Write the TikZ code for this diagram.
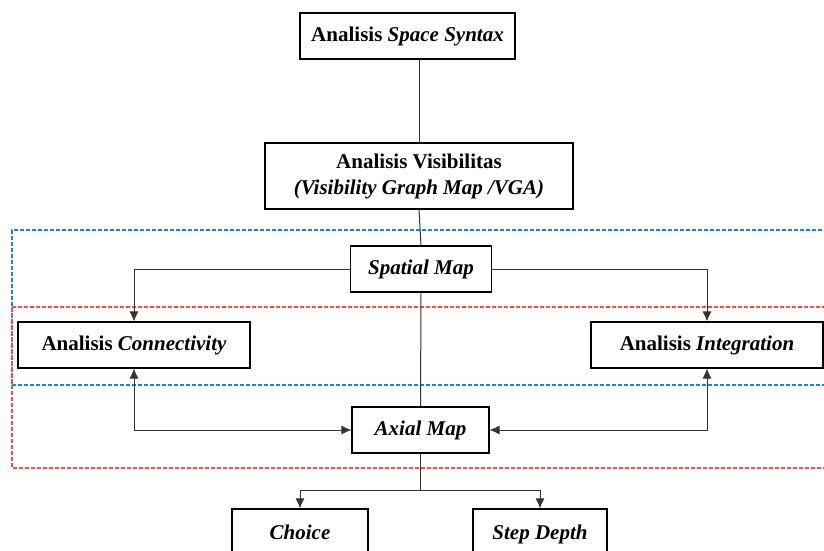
\documentclass[tikz,border=0pt]{standalone}
\usepackage{fontspec}
\setmainfont{Liberation Serif}
\usepackage{xcolor}
\usetikzlibrary{shapes,arrows,arrows.meta,positioning}

\definecolor{zoneblue}{RGB}{30,130,215}
\definecolor{zonered}{RGB}{255,75,75}

\begin{document}
\begin{tikzpicture}[x=1pt, y=-1pt, font=\fontsize{21}{26}\selectfont\bfseries]
            \tikzstyle{stage} = [rectangle, draw, line width=1.1pt, fill=white, text centered, minimum height=46pt, inner sep=2pt]
            \tikzstyle{link} = [black!80, line width=1pt]
            \tikzstyle{arrow} = [link, -{Latex[length=10pt,width=9pt]}]
            \tikzstyle{twoway} = [link, {Latex[length=10pt,width=9pt]}-{Latex[length=10pt,width=9pt]}]
            \tikzstyle{zone} = [line width=1.2pt, dash pattern=on 4pt off 2pt]

            \clip (0,0) rectangle (824,551);

            % dashed zones (open on the right)
            \draw [zone, zoneblue] (840,230) -- (12,230) -- (12,385);
            \draw [zone, zoneblue] (12,385) -- (840,385);
            \draw [zone, zonered] (12,307) -- (840,307);
            \draw [zone, zonered] (12,307) -- (12,468) -- (840,468);

            \node [stage, minimum width=215pt] (ss) at (407.5,36) {Analisis \textit{Space Syntax}};
            \node [stage, minimum width=308pt, minimum height=66pt, align=center] (vga) at (419,176) {Analisis Visibilitas\\\textit{(Visibility Graph Map /VGA)}};
            \node [stage, minimum width=141pt] (spatial) at (421,269) {\textit{Spatial Map}};
            \node [stage, minimum width=232pt] (conn) at (134,345) {Analisis \textit{Connectivity}};
            \node [stage, minimum width=232pt] (integ) at (707,345) {Analisis \textit{Integration}};
            \node [stage, minimum width=137pt] (axial) at (420.5,430) {\textit{Axial Map}};
            \node [stage, minimum width=136pt, minimum height=60pt, text depth=14pt] (choice) at (300,539) {\textit{Choice}};
            \node [stage, minimum width=134pt, minimum height=60pt, text depth=14pt] (step) at (540,539) {\textit{Step Depth}};
            \coordinate (split) at (420.5,490);

            \draw [link] (vga.north |- ss.south) -- (vga.north);
            \draw [link] (vga.south) -- (spatial.north);
            \draw [link] (spatial.south) -- (axial.north);
            \draw [arrow] (spatial.west) -| (conn.north);
            \draw [arrow] (spatial.east) -| (integ.north);
            \draw [twoway] (conn.south) |- (axial.west);
            \draw [twoway] (integ.south) |- (axial.east);
            \draw [link] (axial.south) -- (split);
            \draw [arrow] (split) -| (choice.north);
            \draw [arrow] (split) -| (step.north);
        \end{tikzpicture}
\end{document}
